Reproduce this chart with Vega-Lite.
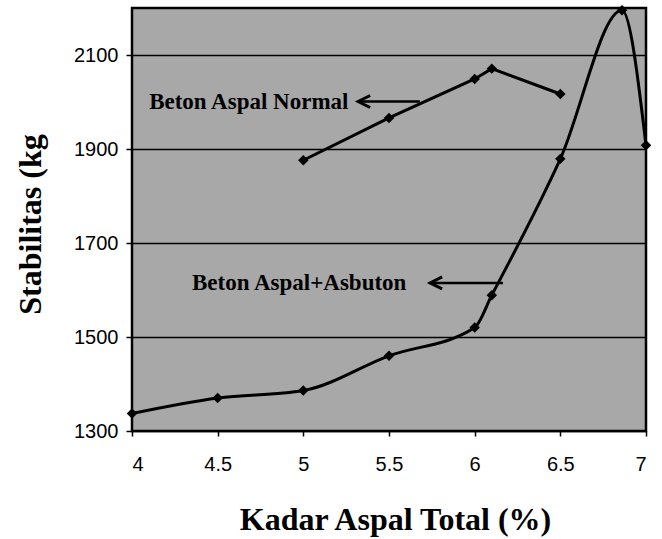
{
  "$schema": "https://vega.github.io/schema/vega-lite/v6.json",
  "width": 514,
  "height": 423,
  "autosize": {"type": "none"},
  "padding": {"left": 132, "top": 8, "right": 16, "bottom": 108},
  "background": "white",
  "config": {
    "view": {"fill": "#a8a8a8", "stroke": "black", "strokeWidth": 2.5},
    "axis": {
      "labelFont": "Liberation Sans",
      "labelFontSize": 20,
      "labelColor": "black",
      "titleFont": "Liberation Serif",
      "titleFontWeight": "bold",
      "titleColor": "black",
      "domainColor": "black",
      "tickColor": "black",
      "tickWidth": 1.5
    }
  },
  "datasets": {
    "series": [
      {"series": "Normal", "kadar": 5.0, "stabilitas": 1876},
      {"series": "Normal", "kadar": 5.5, "stabilitas": 1966},
      {"series": "Normal", "kadar": 6.0, "stabilitas": 2049},
      {"series": "Normal", "kadar": 6.1, "stabilitas": 2071},
      {"series": "Normal", "kadar": 6.5, "stabilitas": 2017},
      {"series": "Asbuton", "kadar": 4.0, "stabilitas": 1337},
      {"series": "Asbuton", "kadar": 4.5, "stabilitas": 1370},
      {"series": "Asbuton", "kadar": 5.0, "stabilitas": 1386},
      {"series": "Asbuton", "kadar": 5.5, "stabilitas": 1460},
      {"series": "Asbuton", "kadar": 6.0, "stabilitas": 1520},
      {"series": "Asbuton", "kadar": 6.1, "stabilitas": 1589},
      {"series": "Asbuton", "kadar": 6.5, "stabilitas": 1879},
      {"series": "Asbuton", "kadar": 6.86, "stabilitas": 2195},
      {"series": "Asbuton", "kadar": 7.0, "stabilitas": 1908}
    ],
    "labels": [
      {"label": "Beton Aspal Normal", "x": 4.1, "y": 2001, "ax": 5.32, "ax2": 5.68},
      {"label": "Beton Aspal+Asbuton", "x": 4.35, "y": 1615, "ax": 5.74, "ax2": 6.165}
    ]
  },
  "layer": [
    {
      "data": {"name": "series"},
      "transform": [{"filter": "datum.series === 'Normal'"}],
      "mark": {"type": "line", "color": "black", "strokeWidth": 3},
      "encoding": {
        "x": {
          "field": "kadar", "type": "quantitative",
          "scale": {"domain": [4, 7], "nice": false, "zero": false},
          "axis": {
            "values": [4, 4.5, 5, 5.5, 6, 6.5, 7],
            "labelExpr": "'' + datum.value",
            "grid": false, "tickSize": 5, "labelPadding": 18,
            "title": "Kadar Aspal Total (%)", "titleFontSize": 32,
            "titleX": 263, "titleY": 98, "titleBaseline": "alphabetic", "titleAlign": "center"
          }
        },
        "y": {
          "field": "stabilitas", "type": "quantitative",
          "scale": {"domain": [1300, 2200], "nice": false, "zero": false},
          "axis": {
            "values": [1300, 1500, 1700, 1900, 2100],
            "format": "d",
            "grid": true, "gridColor": "black", "gridWidth": 1.5, "gridOpacity": 1,
            "tickSize": 6, "labelPadding": 8,
            "title": "Stabilitas (kg", "titleFontSize": 32,
            "titleX": -92, "titleY": 216, "titleBaseline": "alphabetic", "titleAlign": "center"
          }
        }
      }
    },
    {
      "data": {"name": "series"},
      "transform": [{"filter": "datum.series === 'Asbuton'"}],
      "mark": {"type": "line", "color": "black", "strokeWidth": 3, "interpolate": "monotone", "clip": true},
      "encoding": {
        "x": {"field": "kadar", "type": "quantitative"},
        "y": {"field": "stabilitas", "type": "quantitative"}
      }
    },
    {
      "data": {"name": "series"},
      "mark": {"type": "point", "shape": "diamond", "filled": true, "color": "black", "size": 110, "opacity": 1},
      "encoding": {
        "x": {"field": "kadar", "type": "quantitative"},
        "y": {"field": "stabilitas", "type": "quantitative"}
      }
    },
    {
      "data": {"name": "labels"},
      "mark": {"type": "text", "align": "left", "baseline": "middle", "font": "Liberation Serif", "fontWeight": "bold", "fontSize": 23, "color": "black"},
      "encoding": {
        "x": {"field": "x", "type": "quantitative"},
        "y": {"field": "y", "type": "quantitative"},
        "text": {"field": "label"}
      }
    },
    {
      "data": {"name": "labels"},
      "mark": {"type": "rule", "color": "black", "strokeWidth": 2.5},
      "encoding": {
        "x": {"field": "ax", "type": "quantitative"},
        "x2": {"field": "ax2"},
        "y": {"field": "y", "type": "quantitative"}
      }
    },
    {
      "data": {"name": "labels"},
      "mark": {"type": "point", "shape": "M2,-1L0,0L2,1", "filled": false, "stroke": "black", "strokeWidth": 3, "size": 144, "opacity": 1},
      "encoding": {
        "x": {"field": "ax", "type": "quantitative"},
        "y": {"field": "y", "type": "quantitative"}
      }
    }
  ]
}
